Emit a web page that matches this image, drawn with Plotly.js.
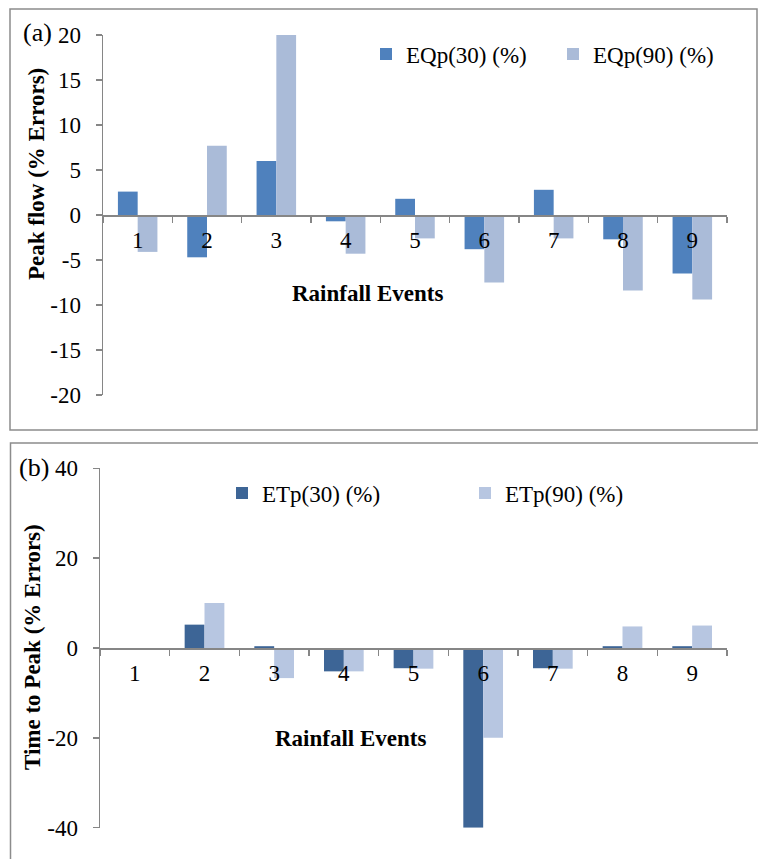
<!DOCTYPE html>
<html>
<head>
<meta charset="utf-8">
<script src="https://cdn.plot.ly/plotly-3.0.1.min.js"></script>
<style>html,body{margin:0;padding:0;background:#fff;}#chart{width:758px;height:859px;}</style>
</head>
<body>
<div id="chart"></div>
<script>
var events = ["1","2","3","4","5","6","7","8","9"];
var eqp30 = [2.6, -4.7, 6.0, -0.7, 1.8, -3.8, 2.8, -2.7, -6.5];
var eqp90 = [-4.1, 7.7, 20.0, -4.3, -2.6, -7.5, -2.6, -8.4, -9.4];
var etp30 = [0, 5.2, 0.4, -5.2, -4.5, -40.0, -4.5, 0.4, 0.4];
var etp90 = [0, 10.0, -6.7, -5.2, -4.6, -20.0, -4.6, 4.8, 5.0];
var topTicks = [-20, -15, -10, -5, 0, 5, 10, 15, 20];
var bottomTicks = [-40, -20, 0, 20, 40];

var W = 758, H = 859;
function px(x){ return x / W; }
function py(y){ return 1 - y / H; }

var FONT = "Liberation Serif, Times New Roman, serif";
var AX = "#868686";
var BORDER = "#8c8c8c";

var traces = [
  {type: "bar", x: events, y: eqp30, name: "EQp(30) (%)", marker: {color: "#4f81bd"}, xaxis: "x", yaxis: "y", legend: "legend"},
  {type: "bar", x: events, y: eqp90, name: "EQp(90) (%)", marker: {color: "#aabbd8"}, xaxis: "x", yaxis: "y", legend: "legend"},
  {type: "bar", x: events, y: etp30, name: "ETp(30) (%)", marker: {color: "#3d6596"}, xaxis: "x2", yaxis: "y2", legend: "legend2"},
  {type: "bar", x: events, y: etp90, name: "ETp(90) (%)", marker: {color: "#b7c6e1"}, xaxis: "x2", yaxis: "y2", legend: "legend2"}
];

function xAxis(dom, pos){
  return {
    type: "category", domain: dom, anchor: "free", position: pos,
    range: [-0.5, 8.5], tickson: "boundaries", ticks: "outside", ticklen: 6, tickwidth: 1.5,
    tickcolor: AX, showline: true, linecolor: AX, linewidth: 1.5, showgrid: false, zeroline: false,
    tickfont: {family: FONT, size: 23, color: "#000"}, ticklabelstandoff: 4, fixedrange: true
  };
}
function yAxis(dom, rng, vals, xref){
  return {
    domain: dom, range: rng, tickvals: vals, ticktext: vals.map(String), anchor: xref,
    ticks: "outside", ticklen: 6, tickwidth: 1.5, tickcolor: AX, showline: true, linecolor: AX,
    linewidth: 1.5, showgrid: false, zeroline: false,
    tickfont: {family: FONT, size: 23, color: "#000"}, ticklabelstandoff: 10, fixedrange: true
  };
}

var layout = {
  width: W, height: H,
  margin: {l: 0, r: 0, t: 0, b: 0, pad: 0},
  paper_bgcolor: "#fff", plot_bgcolor: "rgba(0,0,0,0)",
  barmode: "group", bargap: 0.43, bargroupgap: 0,
  font: {family: FONT, size: 23, color: "#000"},
  xaxis: xAxis([px(103), px(727)], py(215)),
  yaxis: yAxis([py(395), py(35)], [-20, 20], topTicks, "x"),
  xaxis2: xAxis([px(100), px(727)], py(648.3)),
  yaxis2: yAxis([py(827.7), py(468.3)], [-40, 40], bottomTicks, "x2"),
  legend: {
    orientation: "h", x: px(366), y: py(54), xanchor: "left", yanchor: "middle",
    entrywidth: 142, entrywidthmode: "pixels", bgcolor: "rgba(0,0,0,0)",
    font: {family: FONT, size: 23, color: "#000"}, itemclick: false, itemdoubleclick: false
  },
  legend2: {
    orientation: "h", x: px(222), y: py(493), xanchor: "left", yanchor: "middle",
    entrywidth: 198, entrywidthmode: "pixels", bgcolor: "rgba(0,0,0,0)",
    font: {family: FONT, size: 23, color: "#000"}, itemclick: false, itemdoubleclick: false
  },
  annotations: [
    {text: "(a)", xref: "paper", yref: "paper", x: px(21), y: py(32), xanchor: "left", yanchor: "middle", showarrow: false, font: {family: FONT, size: 26, color: "#000"}},
    {text: "(b)", xref: "paper", yref: "paper", x: px(17), y: py(467), xanchor: "left", yanchor: "middle", showarrow: false, font: {family: FONT, size: 26, color: "#000"}},
    {text: "<b>Peak flow (% Errors)</b>", xref: "paper", yref: "paper", x: px(36), y: py(174), xanchor: "center", yanchor: "middle", textangle: -90, showarrow: false, font: {family: FONT, size: 23, color: "#000"}},
    {text: "<b>Time to Peak (% Errors)</b>", xref: "paper", yref: "paper", x: px(32), y: py(647), xanchor: "center", yanchor: "middle", textangle: -90, showarrow: false, font: {family: FONT, size: 23, color: "#000"}},
    {text: "<b>Rainfall Events</b>", xref: "paper", yref: "paper", x: px(367), y: py(293), xanchor: "center", yanchor: "middle", showarrow: false, font: {family: FONT, size: 23, color: "#000"}},
    {text: "<b>Rainfall Events</b>", xref: "paper", yref: "paper", x: px(350), y: py(738), xanchor: "center", yanchor: "middle", showarrow: false, font: {family: FONT, size: 23, color: "#000"}}
  ],
  shapes: [
    {type: "rect", xref: "paper", yref: "paper", x0: px(10), x1: px(757), y0: py(430), y1: py(9), line: {color: BORDER, width: 1.5}, fillcolor: "rgba(0,0,0,0)", layer: "below"},
    {type: "rect", xref: "paper", yref: "paper", x0: px(10.5), x1: px(770), y0: py(880), y1: py(443), line: {color: BORDER, width: 1.5}, fillcolor: "rgba(0,0,0,0)", layer: "below"}
  ]
};

Plotly.newPlot("chart", traces, layout, {displayModeBar: false, staticPlot: true});
</script>
</body>
</html>
